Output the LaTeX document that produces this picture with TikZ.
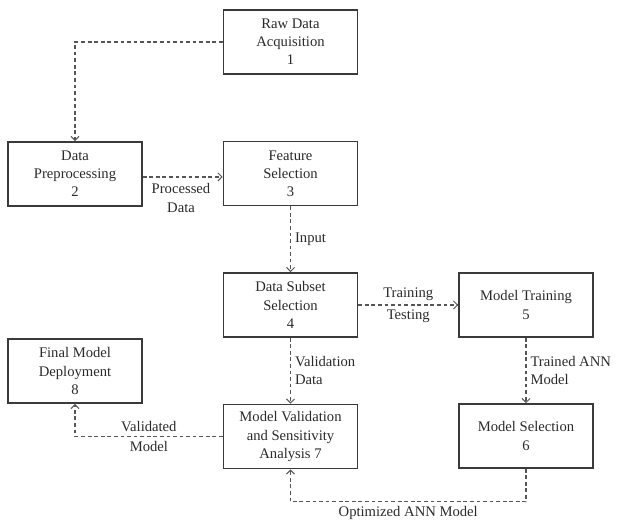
\documentclass[tikz,border=0pt]{standalone}
\usepackage{amsmath, amssymb}
\usepackage{fontspec}
\setmainfont{Liberation Serif}
\usepackage{xcolor}
\usepackage{tikz}
\usetikzlibrary{arrows.meta}

\definecolor{boxgray}{HTML}{3A3A3A}
\definecolor{dashgray}{HTML}{555555}
\definecolor{txtgray}{HTML}{2A2A2A}

\begin{document}
\begin{tikzpicture}[x=0.3mm, y=-0.3mm,
    stage/.style={draw=boxgray, line width=1.3pt, minimum width=40.2mm,
        minimum height=19.2mm, inner sep=0pt, align=center, text=txtgray,
        font=\fontsize{12.5}{15.5}\selectfont},
    flow/.style={draw=dashgray, line width=1.1pt, dash pattern=on 3.2pt off 2.4pt,
        -{Straight Barb[length=3.5pt, width=7pt, line width=0.9pt]}},
    lbl/.style={text=txtgray, font=\fontsize{12.5}{15.5}\selectfont}]
            \useasboundingbox (0, 0) rectangle (619, 524);

            \node[stage] (raw) at (290.5, 42.0) {Raw Data\\Acquisition\\1};
            \node[stage] (prep) at (75.0, 174.0) {Data\\Preprocessing\\2};
            \node[stage] (feat) at (290.5, 173.5) {Feature\\Selection\\3};
            \node[stage] (subset) at (290.5, 305.0) {Data Subset\\Selection\\4};
            \node[stage] (train) at (526.0, 305.0) {Model Training\\5};
            \node[stage] (select) at (526.0, 436.0) {Model Selection\\6};
            \node[stage] (valid) at (290.5, 436.5) {Model Validation\\and Sensitivity\\Analysis 7};
            \node[stage] (deploy) at (75.0, 371.0) {Final Model\\Deployment\\8};

            \draw[flow] (raw.west) -| (prep.north); % 1-2
            \draw[flow] (prep.east |- 0, 177) -- (feat.west |- 0, 177); % 2-3
            \node[lbl, align=center] (procd) at (181.0, 198.0) {Processed\\Data};
            \draw[flow] (feat) -- (subset) node[lbl, midway, right] {Input}; % 3-4
            \draw[flow] (subset) -- (train)
                node[lbl, midway, above] {Training}
                node[lbl, midway, below] {Testing}; % 4-5
            \draw[flow] (train) -- (select)
                node[lbl, midway, right, align=left] {Trained ANN\\Model}; % 5-6
            \draw[flow] (subset) -- (valid)
                node[lbl, midway, right, align=left] {Validation\\Data}; % 4-7
            \draw[flow] (select.south) -- ++(0, 33) -| (valid.south)
                node[lbl, pos=0.25, below] {Optimized ANN Model}; % 6-7
            \draw[flow] (valid.west) -| (deploy.south)
                node[lbl, pos=0.25, above] {Validated}
                node[lbl, pos=0.25, below] {Model}; % 7-8
        \end{tikzpicture}
\end{document}
